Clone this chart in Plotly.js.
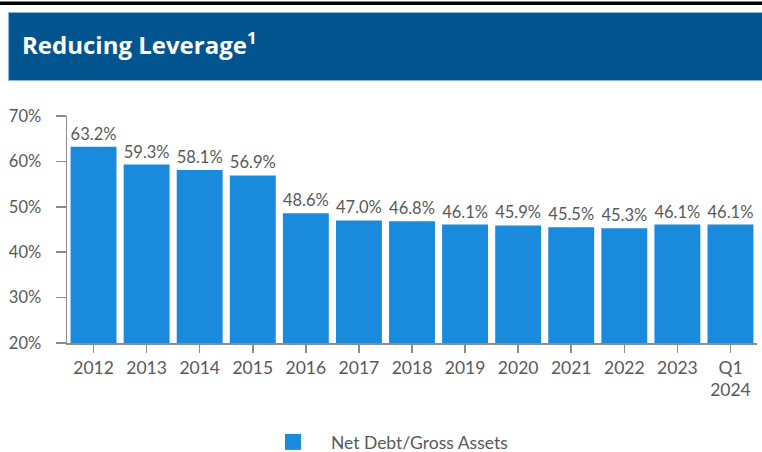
<!DOCTYPE html>
<html>
<head>
<meta charset="utf-8">
<script src="https://cdn.plot.ly/plotly-3.0.1.min.js"></script>
<style>
  html, body { margin: 0; padding: 0; background: #ffffff; }
  #chart { width: 762px; height: 452px; }
</style>
</head>
<body>
<div id="chart"></div>
<script>
const categories = ["2012", "2013", "2014", "2015", "2016", "2017", "2018", "2019", "2020", "2021", "2022", "2023", "Q1<br>2024"];
const netDebtGrossAssets = [63.2, 59.3, 58.1, 56.9, 48.6, 47.0, 46.8, 46.1, 45.9, 45.5, 45.3, 46.1, 46.1];
const yTickValues = [20, 30, 40, 50, 60, 70];
const yTickLabels = ["20%", "30%", "40%", "50%", "60%", "70%"];
const seriesName = "Net Debt/Gross Assets";
const chartTitle = "Reducing Leverage<sup>1</sup>";

const W = 762, H = 452;
const M = { l: 67, r: 5, t: 116, b: 109 };
const pw = W - M.l - M.r, ph = H - M.t - M.b;
const px = x => (x - M.l) / pw;
const py = y => (H - M.b - y) / ph;

const gray = "#595959";
const barColor = "#1A8ADD";
const font = "Lato, 'Noto Sans', sans-serif";

const barTrace = {
  type: "bar",
  x: categories,
  y: netDebtGrossAssets,
  name: seriesName,
  marker: { color: barColor },
  texttemplate: "%{y:.1f}%",
  textposition: "outside",
  cliponaxis: false,
  textfont: { family: font, size: 16.5, color: gray },
  hoverinfo: "skip",
  showlegend: false
};

// legend-only entry (no data points) to get a larger legend square
const legendTrace = {
  type: "scatter",
  mode: "markers",
  x: [null], y: [null],
  name: "\u00a0\u00a0\u00a0\u00a0" + seriesName,
  marker: { symbol: "square", size: 16, color: barColor },
  hoverinfo: "skip",
  showlegend: true
};

const layout = {
  width: W, height: H,
  margin: M,
  paper_bgcolor: "#ffffff",
  plot_bgcolor: "#ffffff",
  bargap: 0.135,
  font: { family: font, color: gray },
  title: {
    text: chartTitle,
    font: { family: "'Open Sans', Lato, sans-serif", size: 24, color: "#ffffff", weight: 700 },
    x: 22 / W, xanchor: "left", xref: "container",
    y: 1 - 46 / H, yanchor: "middle", yref: "container"
  },
  xaxis: {
    type: "category",
    showline: true, linecolor: "#8c8c8c", linewidth: 1.5,
    ticks: "outside", ticklen: 8, tickcolor: "#8c8c8c", tickwidth: 1.5,
    tickfont: { family: font, size: 17.5, color: gray },
    showgrid: false, zeroline: false, fixedrange: true, automargin: false
  },
  yaxis: {
    range: [20, 70],
    tickvals: yTickValues, ticktext: yTickLabels,
    showline: true, linecolor: "#8c8c8c", linewidth: 1.5,
    ticks: "outside", ticklen: 10, tickcolor: "#8c8c8c", tickwidth: 1.5,
    ticklabelstandoff: 11,
    tickfont: { family: font, size: 16.5, color: gray },
    showgrid: false, zeroline: false, fixedrange: true, automargin: false
  },
  legend: {
    orientation: "h",
    xref: "container", yref: "container",
    x: 273 / W, xanchor: "left",
    y: 1 - 442 / H, yanchor: "middle",
    font: { family: font, size: 17.5, color: gray },
    bgcolor: "rgba(0,0,0,0)"
  },
  shapes: [
    { type: "rect", xref: "paper", yref: "paper", layer: "below",
      x0: px(-5), x1: px(W + 5), y0: py(5), y1: py(1.5),
      fillcolor: "#000000", line: { width: 0 } },
    { type: "rect", xref: "paper", yref: "paper", layer: "below",
      x0: px(8.5), x1: px(W + 5), y0: py(80.5), y1: py(12.5),
      fillcolor: "#02558F", line: { color: "#8FB3D2", width: 1.2 } }
  ]
};

Plotly.newPlot("chart", [barTrace, legendTrace], layout, { displayModeBar: false, staticPlot: true });
</script>
</body>
</html>
